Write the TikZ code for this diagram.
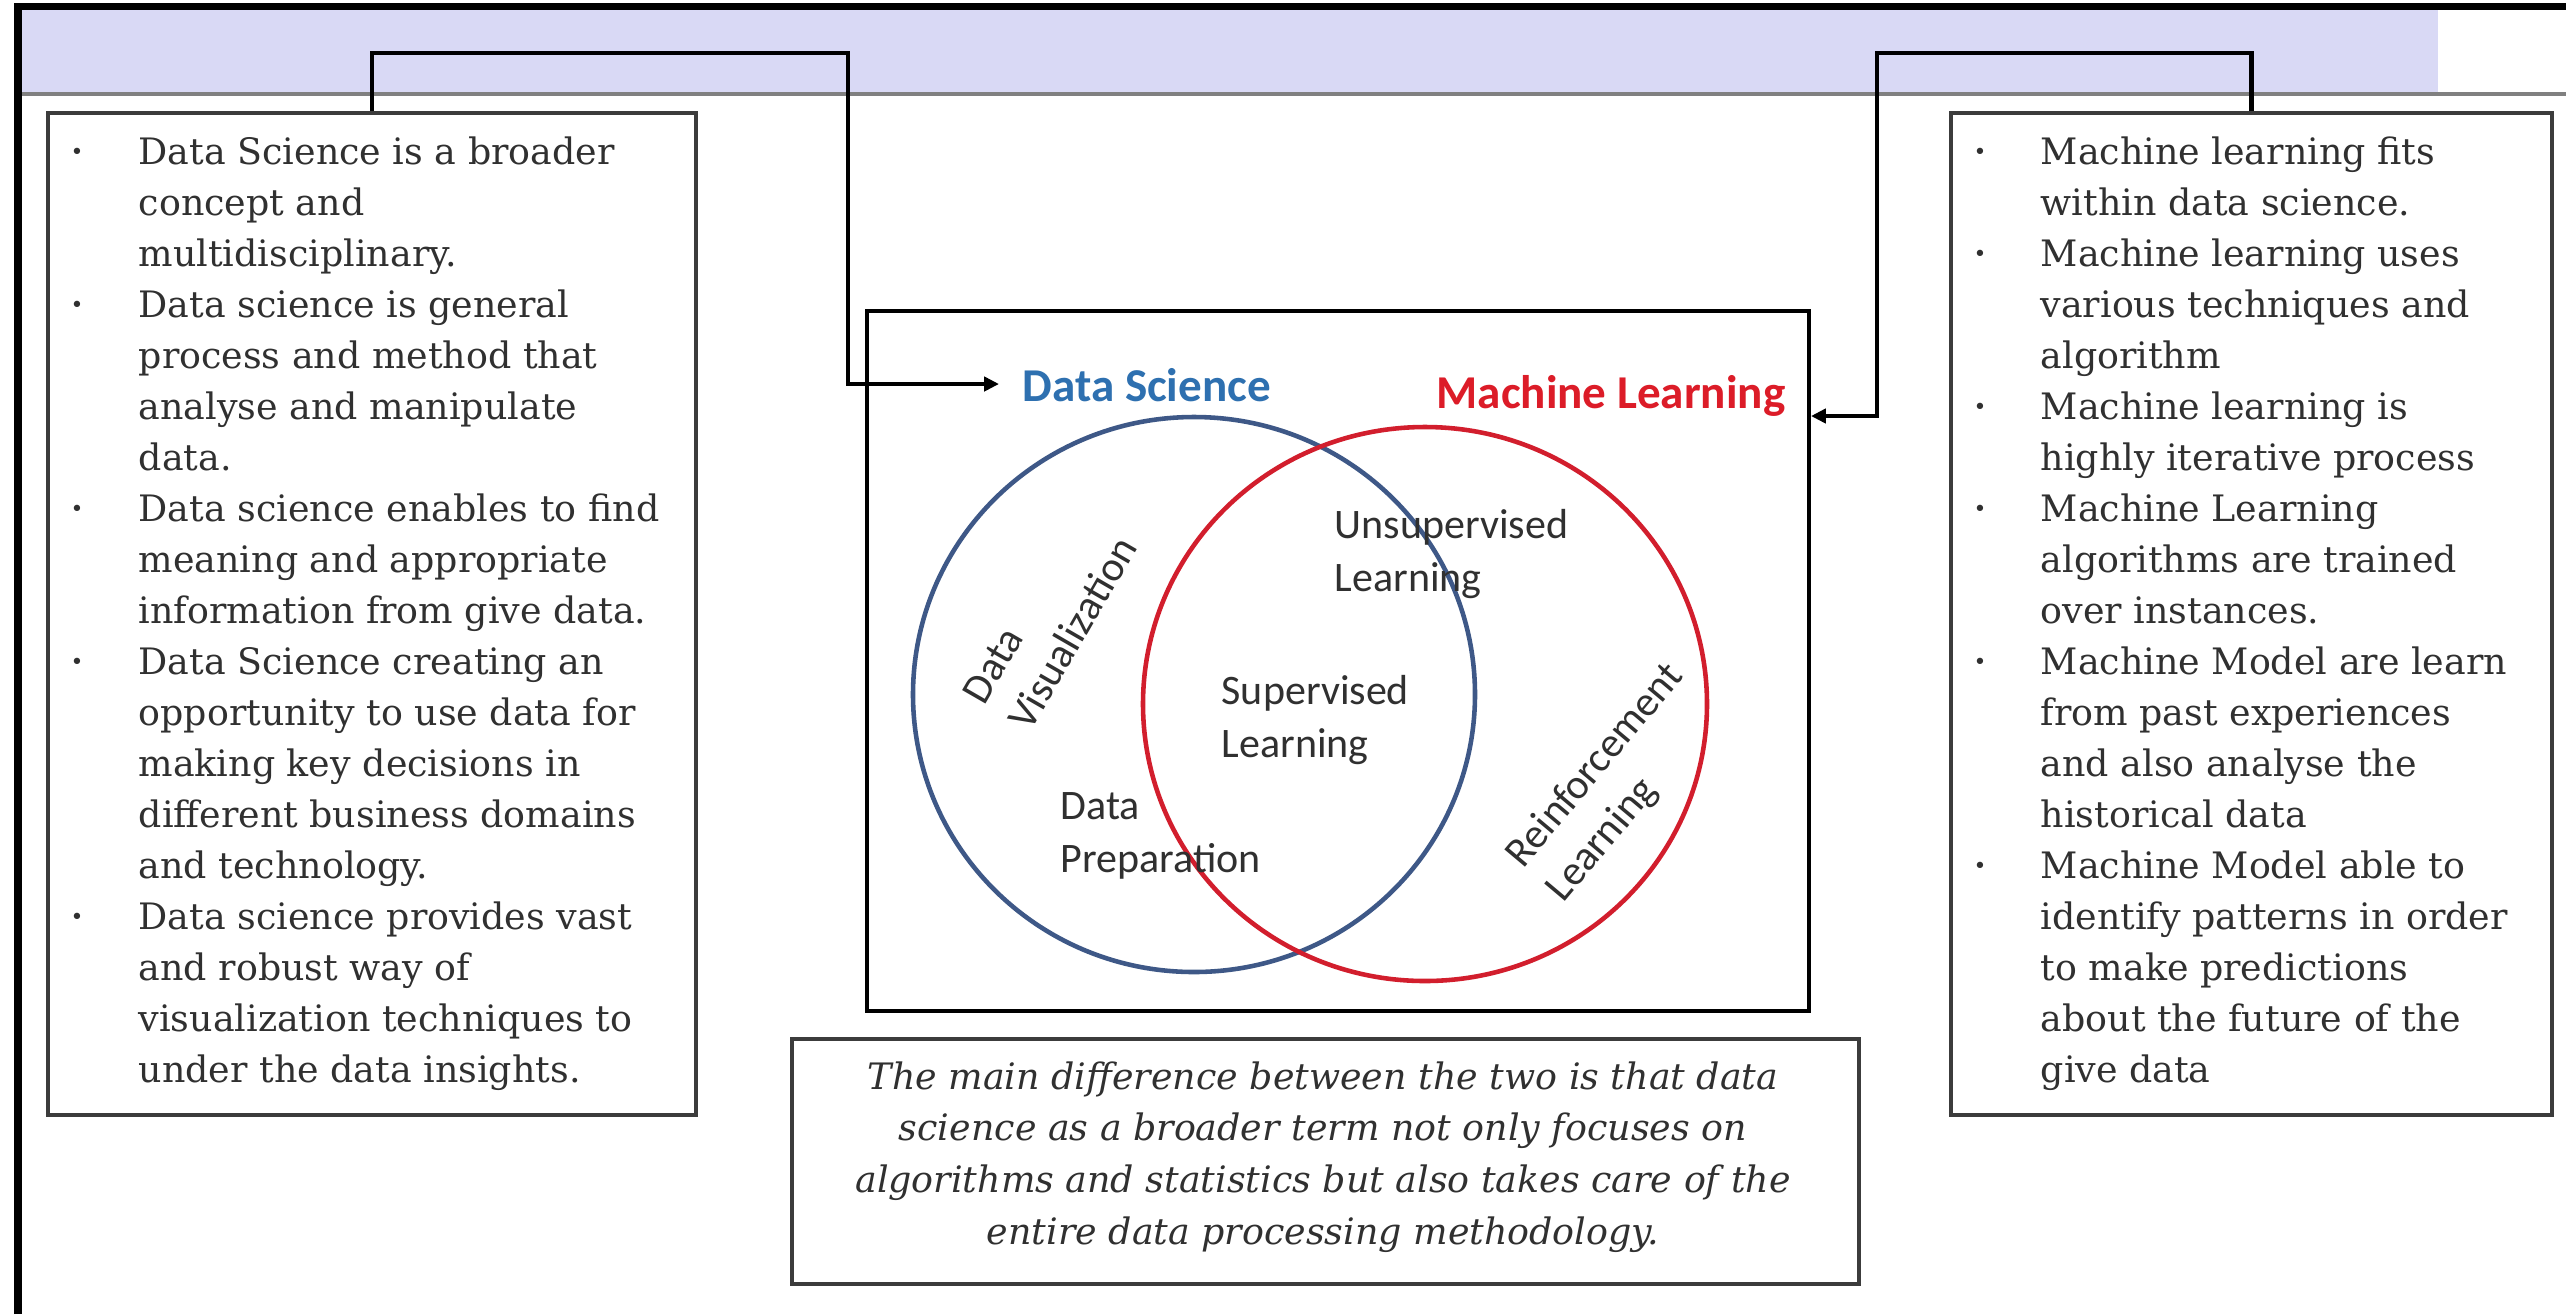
\documentclass[tikz,border=0pt]{standalone}
\usepackage{fontspec}
\setmainfont{DejaVu Serif}
\newfontfamily\calfont{Carlito}
\usetikzlibrary{arrows.meta}
\definecolor{bandcol}{RGB}{217,217,245}
\definecolor{txtgray}{RGB}{48,48,48}
\definecolor{boxgray}{RGB}{60,60,60}
\definecolor{dsblue}{RGB}{46,112,176}
\definecolor{mlred}{RGB}{220,28,40}
\definecolor{ellblue}{RGB}{62,88,135}
\definecolor{ellred}{RGB}{210,30,45}
\newcommand{\bul}{\raisebox{0.25ex}{\scalebox{0.6}{\textbullet}}}
\begin{document}
\begin{tikzpicture}[x=0.1mm,y=-0.1mm,
  panel/.style={draw=boxgray, line width=1.2pt, fill=white, anchor=north west, inner sep=0},
  conn/.style={line width=1.3pt, line join=miter, -{Triangle[length=4.2pt,width=4pt]}},
  boxtext/.style={anchor=north west, inner sep=0, text=txtgray, font=\fontsize{10.36pt}{14.51pt}\selectfont},
  vlab/.style={inner sep=0, align=left, text=txtgray, font=\calfont\fontsize{11.95pt}{15.1pt}\selectfont},
  title/.style={inner sep=0, anchor=base west, font=\calfont\bfseries\fontsize{13.4pt}{16pt}\selectfont}]
\useasboundingbox (0,0) rectangle (2566,1314);
\fill[white] (0,0) rectangle (2566,1314);
% header band and frame
\fill[bandcol] (22,10) rectangle (2438,93);
\draw[gray, line width=0.9pt] (22,94) -- (2566,94);
\draw[black, line width=2pt] (18,1314) -- (18,6.5) -- (2566,6.5);

% panels
\node[panel, minimum width=64.8mm, minimum height=100.2mm] (lbox) at (46,111) {};
\node[panel, minimum width=60.1mm, minimum height=100.2mm] (rbox) at (1949,111) {};
\node[panel, draw=black, minimum width=94.2mm, minimum height=70mm] (venn) at (865,309) {};
\node[panel, minimum width=106.7mm, minimum height=24.5mm] (bbox) at (790,1037) {};

% left text
\node[boxtext] (ltext) at (70,128.3) {\begin{tabular}{@{}p{6.8mm}@{}l@{}}
\bul & Data Science is a broader\\
 & concept and\\
 & multidisciplinary.\\
\bul & Data science is general\\
 & process and method that\\
 & analyse and manipulate\\
 & data.\\
\bul & Data science enables to find\\
 & meaning and appropriate\\
 & information from give data.\\
\bul & Data Science creating an\\
 & opportunity to use data for\\
 & making key decisions in\\
 & different business domains\\
 & and technology.\\
\bul & Data science provides vast\\
 & and robust way of\\
 & visualization techniques to\\
 & under the data insights.
\end{tabular}};

% right text
\node[boxtext] (rtext) at (1973,128.3) {\begin{tabular}{@{}p{6.7mm}@{}l@{}}
\bul & Machine learning fits\\
 & within data science.\\
\bul & Machine learning uses\\
 & various techniques and\\
 & algorithm\\
\bul & Machine learning is\\
 & highly iterative process\\
\bul & Machine Learning\\
 & algorithms are trained\\
 & over instances.\\
\bul & Machine Model are learn\\
 & from past experiences\\
 & and also analyse the\\
 & historical data\\
\bul & Machine Model able to\\
 & identify patterns in order\\
 & to make predictions\\
 & about the future of the\\
 & give data
\end{tabular}};

% bottom text
\node[inner sep=0, align=center, text=txtgray, font=\itshape\fontsize{10.36pt}{14.7pt}\selectfont] (btext) at (1323,1157)
 {The main difference between the two is that data\\
  science as a broader term not only focuses on\\
  algorithms and statistics but also takes care of the\\
  entire data processing methodology.};

% Venn diagram
\draw[ellblue, line width=1.3pt] (1194,694.5) ellipse [x radius=28.1mm, y radius=27.75mm];
\draw[ellred, line width=1.3pt] (1425,704) ellipse [x radius=28.2mm, y radius=27.7mm];

\node[title, text=dsblue] (ds) at (1022,401) {Data Science};
\node[title, text=mlred] (ml) at (1436,408) {Machine Learning};

\node[vlab, anchor=north west] (unsup) at (1334,509) {Unsupervised\\Learning};
\node[vlab, anchor=north west] (sup) at (1221,675) {Supervised\\Learning};
\node[vlab, anchor=north west] (prep) at (1060,792) {Data\\Preparation};
\node[vlab, rotate=60] (vis) at (1050,620) {Data\\Visualization};
\node[vlab, rotate=50] (reinf) at (1616,783) {Reinforcement\\Learning};

% connectors
\coordinate (ltop) at (848,53);
\coordinate (dsin) at (999,384);
\coordinate (rtop) at (1877,53);
\coordinate (mlin) at (1811,416);
\draw[conn] (lbox.north) |- (ltop) |- (dsin);
\draw[conn] (rbox.north) |- (rtop) |- (mlin);
\end{tikzpicture}
\end{document}
